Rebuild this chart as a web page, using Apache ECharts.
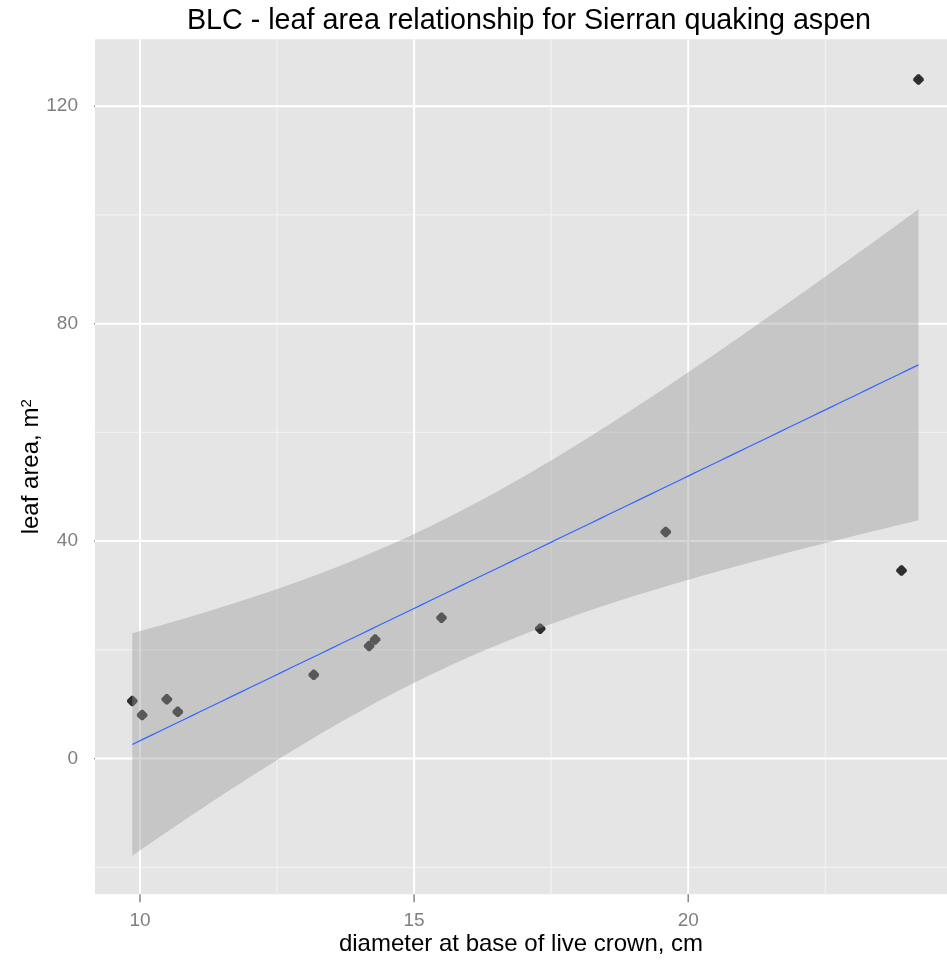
<!DOCTYPE html>
<html>
<head>
<meta charset="utf-8">
<script src="https://cdn.jsdelivr.net/npm/echarts@6/dist/echarts.min.js"></script>
<style>
  html, body { margin: 0; padding: 0; background: #ffffff; }
  #chart { width: 947px; height: 963px; }
</style>
</head>
<body>
<div id="chart"></div>
<script>
// Diameter at base of live crown (cm) and leaf area (m²) for each sampled tree
const diameter = [9.86, 10.04, 10.49, 10.69, 13.17, 14.18, 14.29, 15.50, 17.30, 19.59, 23.89, 24.20];
const leafArea = [10.6, 8.0, 10.9, 8.6, 15.4, 20.7, 21.9, 25.9, 23.9, 41.7, 34.6, 124.9];

// Axis ticks and grid lines
const xTicks = [10, 15, 20];
const xMinorTicks = [12.5, 17.5, 22.5];
const yTicks = [0, 40, 80, 120];
const yMinorTicks = [-20, 20, 60, 100];

const X_MIN = 9.18, X_MAX = 24.72;
const Y_MIN = -24.96, Y_MAX = 132.3;

const FONT = '"Liberation Sans", Arial, sans-serif';
const TICK_LEN = 8;
const TICK_COLOR = '#7F7F7F';

const GRID = { left: 95, right: 0, top: 39.3, bottom: 68.7 };
const PANEL_W = 947 - GRID.left - GRID.right;
const PANEL_H = 963 - GRID.top - GRID.bottom;
// tick length expressed in axis units
const X_TICK_UNITS = (Y_MAX - Y_MIN) / PANEL_H * TICK_LEN;
const Y_TICK_UNITS = (X_MAX - X_MIN) / PANEL_W * TICK_LEN;

// Least-squares line with a 95% confidence band for the mean response
function linearFit(xs, ys, steps) {
  const n = xs.length;
  const mx = xs.reduce((s, v) => s + v, 0) / n;
  const my = ys.reduce((s, v) => s + v, 0) / n;
  let sxx = 0, sxy = 0;
  for (let i = 0; i < n; i++) {
    sxx += (xs[i] - mx) * (xs[i] - mx);
    sxy += (xs[i] - mx) * (ys[i] - my);
  }
  const b = sxy / sxx;
  const a = my - b * mx;
  let sse = 0;
  for (let i = 0; i < n; i++) {
    const r = ys[i] - (a + b * xs[i]);
    sse += r * r;
  }
  const s = Math.sqrt(sse / (n - 2));
  // Student t quantiles (0.975) by degrees of freedom
  const tTable = {8: 2.306004, 9: 2.262157, 10: 2.228139, 11: 2.200985, 12: 2.178813};
  const t = tTable[n - 2] || 1.96;
  const lo = Math.min(...xs), hi = Math.max(...xs);
  const line = [], upper = [], lower = [];
  for (let k = 0; k < steps; k++) {
    const x = lo + (hi - lo) * k / (steps - 1);
    const y = a + b * x;
    const se = s * Math.sqrt(1 / n + (x - mx) * (x - mx) / sxx);
    line.push([x, y]);
    upper.push([x, y + t * se]);
    lower.push([x, y - t * se]);
  }
  return { line, upper, lower };
}

const fit = linearFit(diameter, leafArea, 80);

// Tick marks as short unclipped line segments, one series per tick
const tickSeries = [];
xTicks.forEach(v => tickSeries.push({
  type: 'line', silent: true, clip: false, z: 20, showSymbol: false, symbol: 'none',
  lineStyle: { color: TICK_COLOR, width: 1.4 },
  data: [[v, Y_MIN], [v, Y_MIN - X_TICK_UNITS]]
}));
yTicks.forEach(v => tickSeries.push({
  type: 'line', silent: true, clip: false, z: 20, showSymbol: false, symbol: 'none',
  lineStyle: { color: TICK_COLOR, width: 1.4 },
  data: [[X_MIN - Y_TICK_UNITS, v], [X_MIN, v]]
}));

const chart = echarts.init(document.getElementById('chart'), null, { renderer: 'canvas' });

const option = {
  backgroundColor: '#ffffff',
  animation: false,
  title: {
    text: 'BLC - leaf area relationship for Sierran quaking aspen',
    left: 524,
    textAlign: 'center',
    top: 2,
    textStyle: { fontFamily: FONT, fontSize: 28.7, fontWeight: 'normal', color: '#000000' }
  },
  grid: {
    left: GRID.left, right: GRID.right, top: GRID.top, bottom: GRID.bottom,
    show: true, backgroundColor: '#E5E5E5', borderWidth: 0,
    containLabel: false,
    outerBoundsMode: 'none'
  },
  xAxis: {
    type: 'value',
    min: X_MIN, max: X_MAX,
    name: 'diameter at base of live crown, cm',
    nameLocation: 'middle',
    nameGap: 38,
    nameMoveOverlap: false,
    nameTextStyle: { fontFamily: FONT, fontSize: 24, color: '#000000' },
    axisLine: { show: false, onZero: false },
    axisTick: { show: false },
    axisLabel: { customValues: xTicks, fontFamily: FONT, fontSize: 19, color: '#7F7F7F', margin: 17 },
    splitLine: { show: false }
  },
  yAxis: {
    type: 'value',
    min: Y_MIN, max: Y_MAX,
    name: '{a|leaf area, m}{s|2}',
    nameLocation: 'middle',
    nameRotate: 90,
    nameGap: 52,
    nameMoveOverlap: false,
    nameTextStyle: {
      fontFamily: FONT, color: '#000000',
      rich: {
        a: { fontFamily: FONT, fontSize: 24, lineHeight: 24, color: '#000000', verticalAlign: 'bottom' },
        s: { fontFamily: FONT, fontSize: 15, lineHeight: 15, color: '#000000', verticalAlign: 'top', padding: [0, 0, 20, 0] }
      }
    },
    axisLine: { show: false, onZero: false },
    axisTick: { show: false },
    axisLabel: { customValues: yTicks, fontFamily: FONT, fontSize: 19, color: '#7F7F7F', margin: 17 },
    splitLine: { show: false }
  },
  series: [
    {
      // panel grid lines
      type: 'custom',
      silent: true,
      z: 0,
      data: [[xTicks[0], yTicks[0]]],
      renderItem: function (params, api) {
        const cs = params.coordSys;
        const bottom = cs.y + cs.height;
        const children = [];
        const vLine = (v, w, c) => {
          const x = api.coord([v, yTicks[0]])[0];
          children.push({ type: 'line', shape: { x1: x, y1: cs.y, x2: x, y2: bottom }, style: { stroke: c, lineWidth: w } });
        };
        const hLine = (v, w, c) => {
          const y = api.coord([xTicks[0], v])[1];
          children.push({ type: 'line', shape: { x1: cs.x, y1: y, x2: cs.x + cs.width, y2: y }, style: { stroke: c, lineWidth: w } });
        };
        xMinorTicks.forEach(v => vLine(v, 1.2, '#F2F2F2'));
        yMinorTicks.forEach(v => hLine(v, 1.2, '#F2F2F2'));
        xTicks.forEach(v => vLine(v, 2, '#FFFFFF'));
        yTicks.forEach(v => hLine(v, 2, '#FFFFFF'));
        return { type: 'group', children: children };
      }
    },
    {
      type: 'scatter',
      z: 2,
      symbol: 'path://M4,0 L6,0 L10,4 L10,6 L6,10 L4,10 L0,6 L0,4 Z',
      symbolSize: 10.5,
      itemStyle: { color: '#000000' },
      data: diameter.map((x, i) => [x, leafArea[i]])
    },
    {
      // confidence band
      type: 'custom',
      silent: true,
      z: 3,
      data: [[xTicks[0], yTicks[0]]],
      renderItem: function (params, api) {
        const pts = fit.upper.map(p => api.coord(p))
          .concat(fit.lower.slice().reverse().map(p => api.coord(p)));
        return { type: 'polygon', shape: { points: pts }, style: { fill: 'rgba(153,153,153,0.4)' } };
      }
    },
    {
      type: 'line',
      z: 4,
      silent: true,
      showSymbol: false,
      lineStyle: { color: '#3366FF', width: 1.2 },
      data: fit.line
    }
  ].concat(tickSeries)
};

chart.setOption(option);
</script>
</body>
</html>
